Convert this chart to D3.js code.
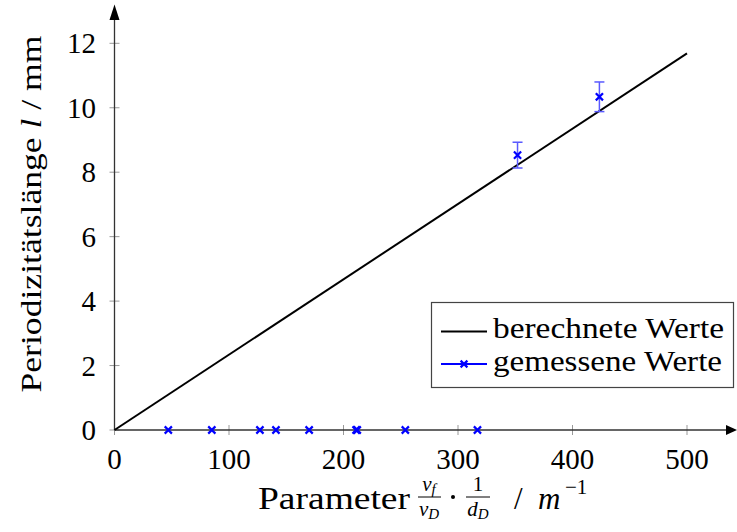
<!DOCTYPE html>
<html><head><meta charset="utf-8">
<script src="https://cdn.jsdelivr.net/npm/d3@7"></script>
</head><body style="margin:0;background:#fff">
<svg id="c" width="737" height="532" style="display:block"></svg>
<script>
// Data
const xTicks = [0, 100, 200, 300, 400, 500];
const yTicks = [0, 2, 4, 6, 8, 10, 12];
const calcX = [0, 500];
const calcY = [0, 11.69];
const measX = [47, 85, 127, 141, 170, 211, 212, 254, 317, 352, 423.5];
const measY = [0, 0, 0, 0, 0, 0, 0, 0, 0, 8.53, 10.34];
const measErr = [0, 0, 0, 0, 0, 0, 0, 0, 0, 0.40, 0.46];
const legendLabels = ["berechnete Werte", "gemessene Werte"];

const FONT = "Liberation Serif";
const svg = d3.select("#c");
const x = d3.scaleLinear().domain([0, 500]).range([114.5, 687]);
const y = d3.scaleLinear().domain([0, 12]).range([430, 43.3]);

// ticks (gray, crossing axes)
const tickCol = "#999";
svg.append("g").selectAll("line").data(xTicks).join("line")
  .attr("x1", d => x(d)).attr("x2", d => x(d)).attr("y1", 425).attr("y2", 435)
  .attr("stroke", tickCol).attr("stroke-width", 1);
svg.append("g").selectAll("line").data(yTicks).join("line")
  .attr("y1", d => y(d)).attr("y2", d => y(d)).attr("x1", x(0) - 5).attr("x2", x(0) + 5)
  .attr("stroke", tickCol).attr("stroke-width", 1);

// axes
svg.append("line").attr("x1", x(0)).attr("x2", 727).attr("y1", y(0)).attr("y2", y(0))
  .attr("stroke", "#333").attr("stroke-width", 1.3);
svg.append("line").attr("x1", x(0)).attr("x2", x(0)).attr("y1", y(0)).attr("y2", 19)
  .attr("stroke", "#333").attr("stroke-width", 1.3);
svg.append("path").attr("d", `M737,${y(0)} L726,${y(0)-5} L726,${y(0)+5} Z`).attr("fill", "#000");
svg.append("path").attr("d", `M${x(0)},4.5 L${x(0)-5},20 L${x(0)+5},20 Z`).attr("fill", "#000");

// tick labels
svg.append("g").selectAll("text").data(xTicks).join("text")
  .attr("x", d => x(d)).attr("y", 469).attr("text-anchor", "middle")
  .attr("font-size", 29).text(d => d);
svg.append("g").selectAll("text").data(yTicks).join("text")
  .attr("x", 96).attr("y", d => y(d) + 10).attr("text-anchor", "end")
  .attr("font-size", 29).text(d => d);

// calculated line
const line = d3.line().x(d => x(d[0])).y(d => y(d[1]));
svg.append("path").datum(calcX.map((v, i) => [v, calcY[i]]))
  .attr("d", line).attr("fill", "none").attr("stroke", "#000").attr("stroke-width", 2);

// error bars
const blue = "#0000ff";
const ebCol = "#5a5aff";
const eb = svg.append("g");
measX.forEach((v, i) => {
  if (measErr[i] <= 0) return;
  const cx = x(v), t = y(measY[i] + measErr[i]), b = y(measY[i] - measErr[i]);
  eb.append("line").attr("x1", cx).attr("x2", cx).attr("y1", t).attr("y2", b).attr("stroke", ebCol).attr("stroke-width", 1.5);
  eb.append("line").attr("x1", cx - 5).attr("x2", cx + 5).attr("y1", t).attr("y2", t).attr("stroke", ebCol).attr("stroke-width", 1.5);
  eb.append("line").attr("x1", cx - 5).attr("x2", cx + 5).attr("y1", b).attr("y2", b).attr("stroke", ebCol).attr("stroke-width", 1.5);
});

// markers (x)
function cross(g, cx, cy, s) {
  g.append("path").attr("d", `M${cx-s},${cy-s}L${cx+s},${cy+s}M${cx-s},${cy+s}L${cx+s},${cy-s}`)
    .attr("stroke", blue).attr("stroke-width", 2.2).attr("fill", "none");
}
const mk = svg.append("g");
measX.forEach((v, i) => cross(mk, x(v), y(measY[i]), 3.6));

// legend
const lg = svg.append("g");
lg.append("rect").attr("x", 431.5).attr("y", 302.5).attr("width", 302).attr("height", 85)
  .attr("fill", "#fff").attr("stroke", "#444").attr("stroke-width", 1.2);
lg.append("line").attr("x1", 441).attr("x2", 487).attr("y1", 331.5).attr("y2", 331.5).attr("stroke", "#000").attr("stroke-width", 2);
lg.append("line").attr("x1", 441).attr("x2", 487).attr("y1", 364).attr("y2", 364).attr("stroke", blue).attr("stroke-width", 2);
cross(lg, 464, 364, 3.4);
lg.selectAll("text.l").data(legendLabels).join("text").attr("class", "l")
  .attr("x", 493).attr("y", (d, i) => 338 + i * 32.5).attr("font-size", 30)
  .attr("lengthAdjust", "spacingAndGlyphs")
  .attr("textLength", (d, i) => i === 0 ? 231 : 229).text(d => d);

// y label
const yl = svg.append("text").attr("transform", "translate(41,214) rotate(-90)")
  .attr("text-anchor", "middle").attr("font-size", 30)
  .attr("lengthAdjust", "spacingAndGlyphs").attr("textLength", 357);
yl.append("tspan").text("Periodizitätslänge ");
yl.append("tspan").attr("font-style", "italic").text("l");
yl.append("tspan").text(" / mm");

// x label
svg.append("text").attr("x", 258).attr("y", 509).attr("font-size", 31)
  .attr("lengthAdjust", "spacingAndGlyphs").attr("textLength", 152).text("Parameter");
const fr = svg.append("g");
fr.append("text").attr("font-style", "italic").attr("x", 429).attr("y", 491).attr("font-size", 21).attr("text-anchor", "middle").text("v").append("tspan").attr("font-size", 15).attr("dy", 3).text("f");
fr.append("text").attr("font-style", "italic").attr("x", 429).attr("y", 516).attr("font-size", 21).attr("text-anchor", "middle").text("v").append("tspan").attr("font-size", 15).attr("dy", 3).text("D");
svg.append("line").attr("x1", 418).attr("x2", 441).attr("y1", 497).attr("y2", 497).attr("stroke", "#000").attr("stroke-width", 1);
svg.append("circle").attr("cx", 453).attr("cy", 497).attr("r", 2).attr("fill", "#000");
svg.append("text").attr("x", 478).attr("y", 491).attr("font-size", 21).attr("text-anchor", "middle").text("1");
fr.append("text").attr("font-style", "italic").attr("x", 478).attr("y", 516).attr("font-size", 21).attr("text-anchor", "middle").text("d").append("tspan").attr("font-size", 15).attr("dy", 3).text("D");
svg.append("line").attr("x1", 466).attr("x2", 490).attr("y1", 497).attr("y2", 497).attr("stroke", "#000").attr("stroke-width", 1);
svg.append("text").attr("x", 514).attr("y", 509).attr("font-size", 31).text("/");
svg.append("text").attr("x", 538).attr("y", 509).attr("font-size", 31).attr("font-style", "italic").text("m");
svg.append("text").attr("x", 565).attr("y", 494).attr("font-size", 21).text("−1");

svg.selectAll("text").attr("font-family", FONT).attr("fill", "#000");
</script>
</body></html>
